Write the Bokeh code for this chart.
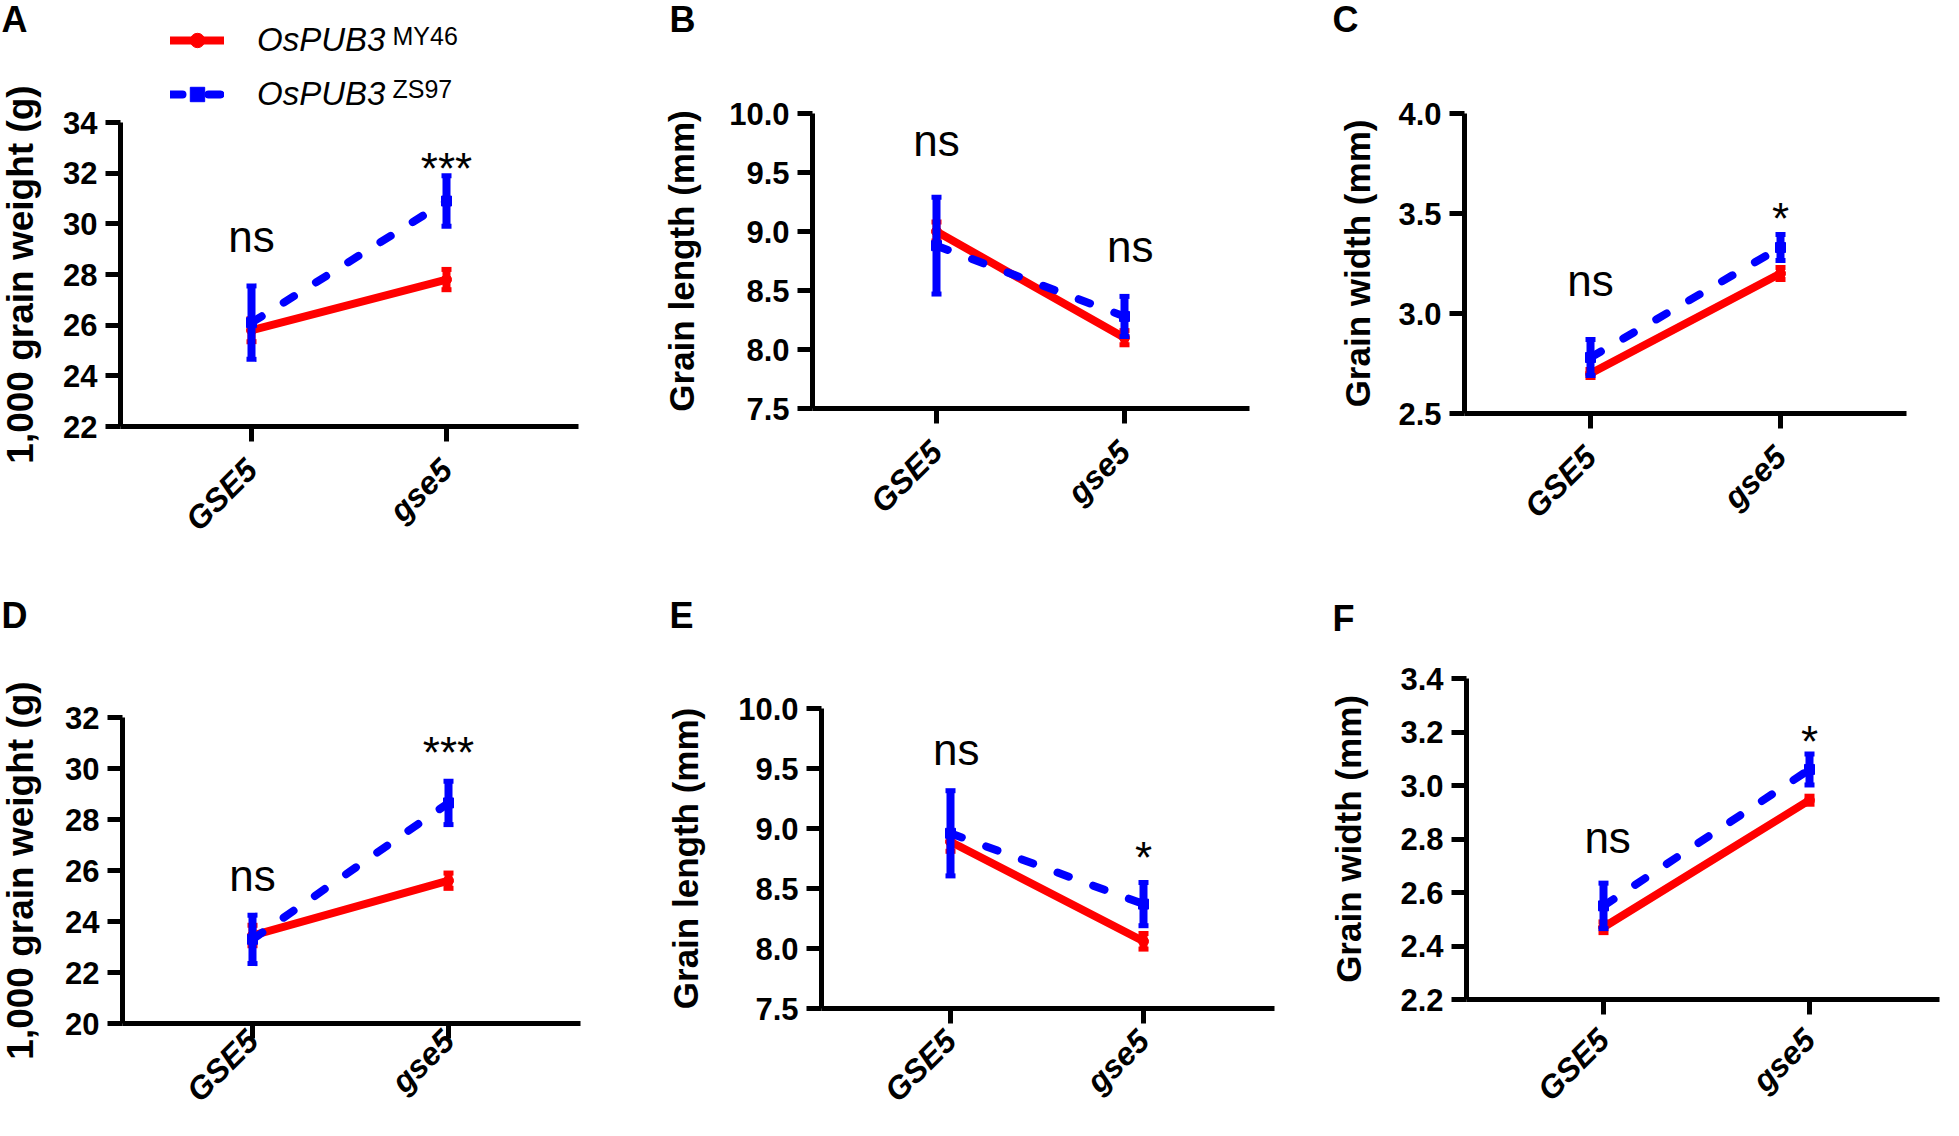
import math
from bokeh.plotting import figure
from bokeh.layouts import column, row
from bokeh.models import (ColumnDataSource, FixedTicker, Legend, LegendItem, Label,
                          Range1d, PrintfTickFormatter)
from bokeh.core.properties import value
from bokeh.embed import file_html
from bokeh.resources import INLINE

# ---------------- data ----------------
x_pos = [1, 2]
categories = ["GSE5", "gse5"]
series_name = "OsPUB3"
series_sups = ["MY46", "ZS97"]
RED = "#FF0000"
BLUE = "#0000FF"

# Panel A: 1,000 grain weight (g)
A_red = [25.8, 27.8]
A_red_err = [0.45, 0.40]
A_blue = [26.1, 30.9]
A_blue_err = [1.45, 1.00]
A_yticks = [22, 24, 26, 28, 30, 32, 34]
A_marks = ["ns", "***"]
A_mark_x = [1, 2]
A_mark_y = [29.50, 32.20]

# Panel B: grain length (mm)
B_red = [9.00, 8.10]
B_red_err = [0.08, 0.06]
B_blue = [8.88, 8.28]
B_blue_err = [0.41, 0.17]
B_yticks = [7.5, 8.0, 8.5, 9.0, 9.5, 10.0]
B_marks = ["ns", "ns"]
B_mark_x = [1, 2.03]
B_mark_y = [9.77, 8.87]

# Panel C: grain width (mm)
C_red = [2.70, 3.20]
C_red_err = [0.02, 0.03]
C_blue = [2.78, 3.33]
C_blue_err = [0.09, 0.065]
C_yticks = [2.5, 3.0, 3.5, 4.0]
C_marks = ["ns", "*"]
C_mark_x = [1, 2]
C_mark_y = [3.165, 3.475]

# Panel D: 1,000 grain weight (g)
D_red = [23.45, 25.6]
D_red_err = [0.40, 0.30]
D_blue = [23.3, 28.65]
D_blue_err = [0.95, 0.85]
D_yticks = [20, 22, 24, 26, 28, 30, 32]
D_marks = ["ns", "***"]
D_mark_x = [1, 2]
D_mark_y = [25.80, 30.61]

# Panel E: grain length (mm)
E_red = [8.89, 8.06]
E_red_err = [0.08, 0.065]
E_blue = [8.96, 8.37]
E_blue_err = [0.355, 0.18]
E_yticks = [7.5, 8.0, 8.5, 9.0, 9.5, 10.0]
E_marks = ["ns", "*"]
E_mark_x = [1.03, 2]
E_mark_y = [9.66, 8.76]

# Panel F: grain width (mm)
F_red = [2.47, 2.945]
F_red_err = [0.02, 0.015]
F_blue = [2.55, 3.06]
F_blue_err = [0.085, 0.058]
F_yticks = [2.2, 2.4, 2.6, 2.8, 3.0, 3.2, 3.4]
F_marks = ["ns", "*"]
F_mark_x = [1.02, 2]
F_mark_y = [2.806, 3.166]

LBL_W = "1,000 grain weight (g)"
LBL_L = "Grain length (mm)"
LBL_Wd = "Grain width (mm)"

FONT = "Liberation Sans"

# ---------------- layout constants (page pixels) ----------------
# box = canvas (x0, y0, w, h); ax = y-axis x; g1/g2 = category tick x; xe = x-axis end;
# yt/yb = page y of top/bottom y tick; ys = y-title standoff; xs = x tick-label standoff
GEOM = {
    "A": dict(box=(8, 8, 652, 582), ax=128, g1=259, g2=454, xe=586, yt=130, yb=434,
              ys=19, yf="37px", xs=23, let=(9, 27)),
    "B": dict(box=(660, 8, 675, 582), ax=820, g1=944, g2=1132, xe=1257, yt=121, yb=416,
              ys=25, yf="35px", xs=23, let=(677, 27)),
    "C": dict(box=(1335, 8, 614, 582), ax=1472, g1=1598, g2=1788, xe=1914, yt=121, yb=421,
              ys=18, yf="35px", xs=23, let=(1340, 27)),
    "D": dict(box=(8, 590, 652, 536), ax=130, g1=260, g2=456, xe=588, yt=725, yb=1031,
              ys=21, yf="37px", xs=-3, let=(9, 623)),
    "E": dict(box=(660, 590, 675, 536), ax=829, g1=958, g2=1151, xe=1282, yt=716, yb=1016,
              ys=30, yf="35px", xs=12, let=(677, 623)),
    "F": dict(box=(1335, 590, 614, 536), ax=1474, g1=1611, g2=1817, xe=1947, yt=686, yb=1007,
              ys=29, yf="35px", xs=20, let=(1340, 626)),
}


def scr(g, px, py):
    """page pixel -> screen coords relative to the frame's bottom-left (frame == canvas)"""
    x0, y0, w, h = g["box"]
    return px - x0, (y0 + h) - py


def draw_series(p, ys, errs, color, marker, dash):
    lo = [v - e for v, e in zip(ys, errs)]
    hi = [v + e for v, e in zip(ys, errs)]
    src = ColumnDataSource(dict(x=x_pos, y=ys, lo=lo, hi=hi))
    p.segment(x0="x", y0="lo", x1="x", y1="hi", source=src, line_color=color, line_width=8)
    p.scatter(x="x", y="hi", source=src, marker="dash", size=10, line_color=color, line_width=5)
    p.scatter(x="x", y="lo", source=src, marker="dash", size=10, line_color=color, line_width=5)
    ln = p.line(x="x", y="y", source=src, line_color=color, line_width=8,
                line_dash=dash, line_cap="round")
    mk = p.scatter(x="x", y="y", source=src, marker=marker, size=10,
                   fill_color=color, line_color=color)
    return ln, mk


def make_panel(key, ylabel, yticks, fmt, red, red_err, blue, blue_err, marks, mx, my):
    g = GEOM[key]
    x0, y0, w, h = g["box"]
    sx = (g["g2"] - g["g1"]) / (x_pos[1] - x_pos[0])
    x_start = x_pos[0] - (g["g1"] - x0) / sx
    x_end = x_pos[1] + (x0 + w - g["g2"]) / sx
    x_axis_lo = x_pos[0] - (g["g1"] - g["ax"]) / sx
    x_axis_hi = x_pos[1] + (g["xe"] - g["g2"]) / sx
    sy = (g["yb"] - g["yt"]) / (yticks[-1] - yticks[0])
    y_start = yticks[0] - (y0 + h - g["yb"]) / sy
    y_end = yticks[-1] + (g["yt"] - y0) / sy

    p = figure(width=w, height=h, title=None,
               x_range=Range1d(x_start, x_end), y_range=Range1d(y_start, y_end),
               output_backend="svg", toolbar_location=None, min_border=0)
    p.min_border_left = p.min_border_right = p.min_border_top = p.min_border_bottom = 0
    p.outline_line_color = None
    p.xgrid.visible = False
    p.ygrid.visible = False
    p.background_fill_color = "white"
    p.border_fill_color = "white"

    for ax in (p.xaxis[0], p.yaxis[0]):
        ax.axis_line_width = 5
        ax.axis_line_color = "black"
        ax.major_tick_line_width = 5
        ax.major_tick_line_color = "black"
        ax.major_tick_out = 15
        ax.major_tick_in = 0
        ax.minor_tick_line_color = None
        ax.major_label_text_font = FONT
        ax.major_label_text_color = "black"

    xa = p.xaxis[0]
    xa.fixed_location = yticks[0]
    xa.bounds = (x_axis_lo, x_axis_hi)
    xa.ticker = FixedTicker(ticks=x_pos)
    xa.major_label_overrides = dict(zip(x_pos, categories))
    xa.major_label_orientation = math.pi / 4
    xa.major_label_text_font_style = "bold italic"
    xa.major_label_text_font_size = "32px"
    xa.major_label_standoff = g["xs"]

    ya = p.yaxis[0]
    ya.fixed_location = x_axis_lo
    ya.bounds = (yticks[0], yticks[-1])
    ya.ticker = FixedTicker(ticks=yticks)
    ya.formatter = PrintfTickFormatter(format=fmt)
    ya.major_label_text_font_style = "bold"
    ya.major_label_text_font_size = "31px"
    ya.major_label_standoff = 8
    ya.axis_label = ylabel
    ya.axis_label_text_font = FONT
    ya.axis_label_text_font_style = "bold"
    ya.axis_label_text_font_size = g["yf"]
    ya.axis_label_text_color = "black"
    ya.axis_label_standoff = g["ys"]

    r_ln, r_mk = draw_series(p, red, red_err, RED, "circle", "solid")
    b_ln, b_mk = draw_series(p, blue, blue_err, BLUE, "square", "12 26")

    tsrc = ColumnDataSource(dict(x=mx, y=my, t=marks))
    p.text(x="x", y="y", text="t", source=tsrc, text_font=value(FONT),
           text_font_size=value("44px"), text_align="center",
           text_baseline="alphabetic", text_color="black")

    lx, ly = scr(g, *g["let"])
    p.add_layout(Label(x=lx, y=ly, x_units="screen", y_units="screen",
                       text=key, text_font=FONT, text_font_style="bold",
                       text_font_size="36px", text_baseline="alphabetic",
                       text_color="black"))
    return p, (r_ln, r_mk, b_ln, b_mk)


pA, rA = make_panel("A", LBL_W, A_yticks, "%d", A_red, A_red_err, A_blue, A_blue_err, A_marks, A_mark_x, A_mark_y)
pB, _ = make_panel("B", LBL_L, B_yticks, "%.1f", B_red, B_red_err, B_blue, B_blue_err, B_marks, B_mark_x, B_mark_y)
pC, _ = make_panel("C", LBL_Wd, C_yticks, "%.1f", C_red, C_red_err, C_blue, C_blue_err, C_marks, C_mark_x, C_mark_y)
pD, _ = make_panel("D", LBL_W, D_yticks, "%d", D_red, D_red_err, D_blue, D_blue_err, D_marks, D_mark_x, D_mark_y)
pE, _ = make_panel("E", LBL_L, E_yticks, "%.1f", E_red, E_red_err, E_blue, E_blue_err, E_marks, E_mark_x, E_mark_y)
pF, _ = make_panel("F", LBL_Wd, F_yticks, "%.1f", F_red, F_red_err, F_blue, F_blue_err, F_marks, F_mark_x, F_mark_y)

# legend of panel A (inside the frame, which covers the whole canvas)
gA = GEOM["A"]
r_ln, r_mk, b_ln, b_mk = rA
leg_x, leg_y = scr(gA, 178, 121)
legend = Legend(items=[LegendItem(label=series_name, renderers=[r_ln, r_mk]),
                       LegendItem(label=series_name, renderers=[b_ln, b_mk])],
                location=(leg_x, leg_y), orientation="vertical",
                glyph_width=54, glyph_height=36, label_height=36, label_standoff=33,
                spacing=16, padding=0, margin=0,
                border_line_color=None, background_fill_alpha=0,
                label_text_font=FONT, label_text_font_style="italic",
                label_text_font_size="33px", label_text_color="black")
pA.add_layout(legend)

for sup, base_y in zip(series_sups, [43, 96]):
    sx_, sy_ = scr(gA, 400, base_y)
    pA.add_layout(Label(x=sx_, y=sy_, x_units="screen", y_units="screen", text=sup,
                        text_font=FONT, text_font_size="25px", text_baseline="alphabetic",
                        text_color="black"))

layout = column(row(pA, pB, pC), row(pD, pE, pF))
open("out.html", "w").write(file_html(layout, INLINE))
